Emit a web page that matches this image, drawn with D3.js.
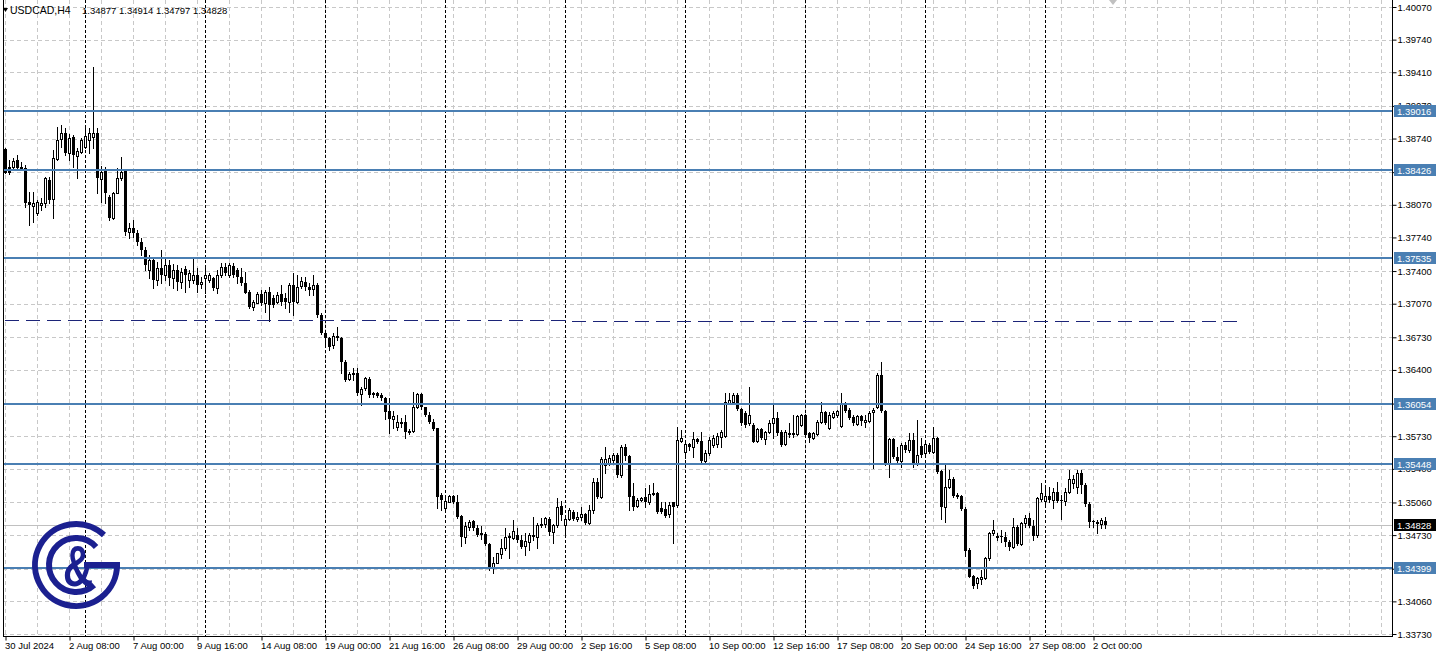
<!DOCTYPE html>
<html><head><meta charset="utf-8">
<script src="https://cdn.jsdelivr.net/npm/d3@7"></script>
<style>
html,body{margin:0;padding:0;background:#fff;overflow:hidden}
svg{display:block;font-family:"Liberation Sans",Arial,sans-serif}
</style></head><body>
<svg id="c" width="1438" height="659"></svg>
<script>
const symbolTitle = "USDCAD,H4";
const lastOHLC = ["1.34877","1.34914","1.34797","1.34828"];

const open = [1.3863,1.3845,1.3845,1.3852,1.3845,1.3844,1.3810,1.3806,1.3799,1.3807,
1.3809,1.3832,1.3813,1.3853,1.3874,1.3880,1.3859,1.3876,1.3856,1.3860,
1.3865,1.3873,1.3876,1.3880,1.3833,1.3841,1.3815,1.3794,1.3819,1.3834,
1.3842,1.3779,1.3784,1.3778,1.3769,1.3761,1.3741,1.3751,1.3731,1.3743,
1.3736,1.3746,1.3733,1.3741,1.3729,1.3742,1.3731,1.3731,1.3736,1.3727,
1.3733,1.3731,1.3733,1.3723,1.3736,1.3744,1.3736,1.3745,1.3741,1.3734,
1.3728,1.3719,1.3704,1.3708,1.3717,1.3708,1.3719,1.3713,1.3709,1.3717,
1.3713,1.3709,1.3726,1.3709,1.3725,1.3729,1.3724,1.3722,1.3726,1.3696,
1.3677,1.3672,1.3665,1.3674,1.3672,1.3648,1.3631,1.3637,1.3637,1.3616,
1.3622,1.3631,1.3617,1.3617,1.3615,1.3612,1.3598,1.3590,1.3582,1.3586,
1.3587,1.3577,1.3578,1.3603,1.3616,1.3603,1.3594,1.3587,1.3581,1.3514,
1.3500,1.3506,1.3513,1.3506,1.3492,1.3471,1.3481,1.3487,1.3480,1.3474,
1.3474,1.3464,1.3440,1.3445,1.3454,1.3460,1.3472,1.3470,1.3473,1.3468,
1.3462,1.3466,1.3473,1.3471,1.3483,1.3484,1.3489,1.3476,1.3483,1.3502,
1.3483,1.3489,1.3496,1.3489,1.3491,1.3494,1.3485,1.3498,1.3527,1.3512,
1.3544,1.3546,1.3549,1.3554,1.3534,1.3562,1.3553,1.3513,1.3502,1.3508,
1.3512,1.3506,1.3515,1.3516,1.3500,1.3499,1.3494,1.3506,1.3503,1.3568,
1.3557,1.3565,1.3562,1.3570,1.3568,1.3548,1.3556,1.3564,1.3565,1.3572,
1.3573,1.3607,1.3608,1.3615,1.3601,1.3596,1.3586,1.3584,1.3568,1.3580,
1.3570,1.3577,1.3586,1.3591,1.3577,1.3565,1.3575,1.3575,1.3575,1.3584,
1.3594,1.3576,1.3571,1.3575,1.3587,1.3597,1.3581,1.3592,1.3594,1.3583,
1.3606,1.3599,1.3592,1.3585,1.3593,1.3587,1.3588,1.3597,1.3603,1.3635,
1.3598,1.3545,1.3570,1.3552,1.3548,1.3564,1.3559,1.3569,1.3546,1.3563,
1.3556,1.3564,1.3557,1.3571,1.3538,1.3501,1.3522,1.3530,1.3514,1.3513,
1.3499,1.3458,1.3432,1.3425,1.3429,1.3430,1.3450,1.3475,1.3471,1.3472,
1.3471,1.3466,1.3461,1.3481,1.3464,1.3485,1.3490,1.3482,1.3473,1.3510,
1.3507,1.3513,1.3509,1.3517,1.3509,1.3507,1.3517,1.3526,1.3522,1.3536,
1.3524,1.3504,1.3487,1.3486,1.3484,1.34877];

const high = [1.3864,1.3852,1.3854,1.3857,1.3850,1.3847,1.3820,1.3820,1.3812,1.3814,
1.3835,1.3835,1.3862,1.3886,1.3888,1.3885,1.3879,1.3878,1.3864,1.3875,
1.3885,1.3885,1.3946,1.3885,1.3846,1.3845,1.3817,1.3820,1.3844,1.3855,
1.3842,1.3789,1.3792,1.3782,1.3773,1.3764,1.3756,1.3753,1.3749,1.3761,
1.3753,1.3751,1.3747,1.3746,1.3743,1.3745,1.3741,1.3752,1.3743,1.3734,
1.3743,1.3738,1.3734,1.3741,1.3748,1.3748,1.3748,1.3748,1.3743,1.3743,
1.3739,1.3721,1.3711,1.3719,1.3721,1.3721,1.3724,1.3716,1.3719,1.3726,
1.3718,1.3728,1.3738,1.3736,1.3734,1.3734,1.3728,1.3736,1.3728,1.3698,
1.3678,1.3673,1.3677,1.3683,1.3673,1.3650,1.3638,1.3642,1.3642,1.3623,
1.3633,1.3633,1.3618,1.3618,1.3617,1.3613,1.3612,1.3598,1.3594,1.3591,
1.3594,1.3580,1.3618,1.3617,1.3617,1.3603,1.3597,1.3590,1.3581,1.3516,
1.3513,1.3514,1.3514,1.3514,1.3493,1.3486,1.3488,1.3488,1.3483,1.3482,
1.3476,1.3465,1.3451,1.3455,1.3469,1.3480,1.3475,1.3488,1.3480,1.3473,
1.3475,1.3475,1.3491,1.3485,1.3490,1.3491,1.3491,1.3484,1.3511,1.3507,
1.3491,1.3500,1.3498,1.3496,1.3501,1.3495,1.3503,1.3531,1.3531,1.3552,
1.3562,1.3554,1.3556,1.3556,1.3564,1.3565,1.3554,1.3526,1.3511,1.3512,
1.3521,1.3524,1.3526,1.3517,1.3506,1.3506,1.3506,1.3506,1.3582,1.3579,
1.3567,1.3566,1.3577,1.3571,1.3577,1.3559,1.3572,1.3574,1.3576,1.3579,
1.3617,1.3617,1.3617,1.3617,1.3602,1.3598,1.3623,1.3586,1.3581,1.3581,
1.3578,1.3589,1.3605,1.3597,1.3579,1.3579,1.3586,1.3594,1.3594,1.3595,
1.3595,1.3577,1.3577,1.3589,1.3608,1.3598,1.3597,1.3598,1.3600,1.3617,
1.3608,1.3602,1.3594,1.3594,1.3594,1.3594,1.3598,1.3602,1.3637,1.3648,
1.3599,1.3571,1.3571,1.3562,1.3566,1.3567,1.3576,1.3576,1.3589,1.3571,
1.3569,1.3566,1.3582,1.3572,1.3539,1.3546,1.3539,1.3532,1.3516,1.3514,
1.3501,1.3460,1.3433,1.3431,1.3438,1.3451,1.3476,1.3488,1.3475,1.3478,
1.3476,1.3468,1.3490,1.3483,1.3486,1.3493,1.3495,1.3488,1.3512,1.3526,
1.3524,1.3522,1.3521,1.3527,1.3514,1.3521,1.3539,1.3534,1.3539,1.3539,
1.3526,1.3506,1.3488,1.3488,1.3490,1.34914];

const low = [1.3839,1.3838,1.3842,1.3842,1.3842,1.3805,1.3787,1.3790,1.3797,1.3802,
1.3805,1.3809,1.3794,1.3852,1.3865,1.3857,1.3852,1.3845,1.3834,1.3859,
1.3864,1.3859,1.3864,1.3819,1.3810,1.3809,1.3792,1.3793,1.3819,1.3832,
1.3776,1.3773,1.3774,1.3766,1.3756,1.3741,1.3733,1.3723,1.3726,1.3728,
1.3731,1.3726,1.3723,1.3721,1.3723,1.3719,1.3724,1.3728,1.3719,1.3723,
1.3718,1.3729,1.3721,1.3718,1.3734,1.3736,1.3734,1.3734,1.3728,1.3726,
1.3718,1.3703,1.3701,1.3708,1.3706,1.3699,1.3689,1.3704,1.3708,1.3706,
1.3703,1.3699,1.3696,1.3708,1.3723,1.3721,1.3716,1.3716,1.3694,1.3676,
1.3665,1.3660,1.3662,1.3670,1.3637,1.3629,1.3630,1.3630,1.3615,1.3605,
1.3620,1.3613,1.3613,1.3613,1.3610,1.3590,1.3576,1.3581,1.3579,1.3582,
1.3571,1.3575,1.3577,1.3602,1.3601,1.3593,1.3586,1.3579,1.3500,1.3498,
1.3498,1.3506,1.3505,1.3490,1.3462,1.3465,1.3478,1.3478,1.3472,1.3469,
1.3463,1.3438,1.3435,1.3445,1.3450,1.3458,1.3450,1.3469,1.3466,1.3460,
1.3453,1.3458,1.3468,1.3460,1.3481,1.3481,1.3473,1.3465,1.3481,1.3488,
1.3473,1.3488,1.3488,1.3487,1.3488,1.3484,1.3484,1.3495,1.3511,1.3511,
1.3536,1.3544,1.3547,1.3532,1.3532,1.3549,1.3498,1.3498,1.3501,1.3507,
1.3501,1.3504,1.3514,1.3495,1.3495,1.3491,1.3491,1.3465,1.3501,1.3567,
1.3551,1.3559,1.3552,1.3566,1.3546,1.3547,1.3554,1.3562,1.3562,1.3562,
1.3572,1.3607,1.3607,1.3600,1.3584,1.3582,1.3584,1.3567,1.3567,1.3570,
1.3565,1.3576,1.3571,1.3574,1.3563,1.3564,1.3572,1.3572,1.3574,1.3583,
1.3572,1.3567,1.3570,1.3574,1.3586,1.3585,1.3580,1.3591,1.3592,1.3582,
1.3597,1.3590,1.3584,1.3584,1.3584,1.3582,1.3587,1.3541,1.3602,1.3597,
1.3544,1.3532,1.3551,1.3547,1.3542,1.3557,1.3557,1.3542,1.3544,1.3552,
1.3553,1.3556,1.3556,1.3536,1.3489,1.3486,1.3521,1.3512,1.3511,1.3498,
1.3452,1.3431,1.3420,1.3420,1.3424,1.3429,1.3448,1.3473,1.3468,1.3466,
1.3462,1.3458,1.3460,1.3463,1.3463,1.3481,1.3481,1.3468,1.3471,1.3507,
1.3501,1.3506,1.3500,1.3506,1.3489,1.3503,1.3516,1.3521,1.3516,1.3516,
1.3502,1.3481,1.3481,1.3475,1.3480,1.34797];

const close = [1.3839,1.3839,1.3851,1.3844,1.3843,1.3809,1.3807,1.3809,1.3810,1.3809,
1.3834,1.3812,1.3854,1.3873,1.3880,1.3859,1.3875,1.3857,1.3861,1.3873,
1.3877,1.3880,1.3880,1.3834,1.3840,1.3819,1.3794,1.3819,1.3834,1.3840,
1.3779,1.3784,1.3778,1.3769,1.3761,1.3746,1.3751,1.3731,1.3743,1.3736,
1.3746,1.3733,1.3741,1.3729,1.3739,1.3736,1.3738,1.3736,1.3726,1.3729,
1.3736,1.3736,1.3723,1.3736,1.3744,1.3738,1.3746,1.3736,1.3734,1.3728,
1.3718,1.3704,1.3709,1.3717,1.3708,1.3719,1.3706,1.3706,1.3716,1.3709,
1.3709,1.3726,1.3709,1.3724,1.3730,1.3724,1.3721,1.3726,1.3696,1.3677,
1.3672,1.3663,1.3674,1.3672,1.3648,1.3630,1.3636,1.3635,1.3617,1.3621,
1.3632,1.3615,1.3615,1.3614,1.3612,1.3597,1.3590,1.3593,1.3587,1.3587,
1.3577,1.3578,1.3603,1.3616,1.3603,1.3594,1.3587,1.3580,1.3512,1.3509,
1.3507,1.3513,1.3506,1.3491,1.3471,1.3482,1.3486,1.3480,1.3473,1.3475,
1.3464,1.3440,1.3445,1.3455,1.3460,1.3471,1.3470,1.3477,1.3468,1.3461,
1.3467,1.3473,1.3471,1.3483,1.3484,1.3490,1.3476,1.3483,1.3501,1.3493,
1.3489,1.3498,1.3489,1.3491,1.3494,1.3485,1.3498,1.3527,1.3512,1.3550,
1.3550,1.3551,1.3554,1.3534,1.3562,1.3553,1.3512,1.3501,1.3508,1.3511,
1.3506,1.3515,1.3516,1.3496,1.3496,1.3492,1.3503,1.3501,1.3569,1.3571,
1.3565,1.3562,1.3570,1.3567,1.3548,1.3556,1.3569,1.3571,1.3573,1.3577,
1.3608,1.3610,1.3615,1.3601,1.3586,1.3584,1.3594,1.3567,1.3580,1.3571,
1.3577,1.3586,1.3591,1.3576,1.3564,1.3577,1.3576,1.3576,1.3593,1.3594,
1.3574,1.3571,1.3576,1.3587,1.3597,1.3586,1.3594,1.3596,1.3598,1.3606,
1.3598,1.3591,1.3586,1.3593,1.3588,1.3589,1.3596,1.3599,1.3635,1.3598,
1.3545,1.3570,1.3552,1.3548,1.3564,1.3559,1.3569,1.3546,1.3554,1.3554,
1.3565,1.3557,1.3571,1.3537,1.3501,1.3522,1.3530,1.3513,1.3512,1.3499,
1.3457,1.3431,1.3422,1.3430,1.3431,1.3450,1.3475,1.3478,1.3472,1.3471,
1.3466,1.3461,1.3481,1.3464,1.3485,1.3490,1.3482,1.3472,1.3511,1.3516,
1.3513,1.3508,1.3517,1.3507,1.3507,1.3517,1.3530,1.3530,1.3536,1.3524,
1.3504,1.3486,1.3486,1.3484,1.3488,1.34828];

const priceTickLabels = ["1.40070","1.39740","1.39410","1.39070","1.38740","1.38400","1.38070","1.37740","1.37400","1.37070","1.36730","1.36400","1.36060","1.35730","1.35400","1.35060","1.34730","1.34390","1.34060","1.33730"];
const levelPrices = [1.39016,1.38426,1.37535,1.36054,1.35448,1.34399];
const trendLineStart = 1.36903;
const trendLineEnd = 1.36885;
const currentPrice = 1.34828;
const timeTickIndex = [0,16,32,48,64,80,96,112,128,144,160,176,192,208,224,240,256,272];
const timeTickLabels = ["30 Jul 2024","2 Aug 08:00","7 Aug 00:00","9 Aug 16:00","14 Aug 08:00","19 Aug 00:00","21 Aug 16:00","26 Aug 08:00","29 Aug 00:00","2 Sep 16:00","5 Sep 08:00","10 Sep 00:00","12 Sep 16:00","17 Sep 08:00","20 Sep 00:00","24 Sep 16:00","27 Sep 08:00","2 Oct 00:00"];
const weekStartIndex = [20,50,80,110,140,170,200,230,260];
const gridEveryBars = 8;
const trendLineEndIndex = 308;

const svg = d3.select("#c");
const PL = 3, PR = 1392, PB = 636, PT = 0;
const nBars = open.length;
const x = d3.scaleLinear().domain([0, nBars - 1]).range([5.5, 5.5 + 4 * (nBars - 1)]);
const y = d3.scaleLinear().domain([1.33730, 1.40070]).range([634, 7]);
const maxIdx = x.invert(PR - 1);
const py = v => Math.round(y(v)) + 0.5;

svg.append("rect").attr("width",1438).attr("height",659).attr("fill","#fff");

// grid
const grid = svg.append("g").attr("shape-rendering","crispEdges");
grid.selectAll("line.h").data(priceTickLabels).join("line")
  .attr("x1",PL).attr("x2",PR).attr("y1",d=>py(+d)).attr("y2",d=>py(+d))
  .attr("stroke","#c8c8c8").attr("stroke-dasharray","4,3");
const vIdx = d3.range(0, Math.floor(maxIdx)+1, gridEveryBars);
grid.selectAll("line.v").data(vIdx).join("line")
  .attr("x1",d=>x(d)).attr("x2",d=>x(d)).attr("y1",PT).attr("y2",PB)
  .attr("stroke","#c8c8c8").attr("stroke-dasharray","4,3");
grid.selectAll("line.w").data(weekStartIndex).join("line")
  .attr("x1",d=>x(d)).attr("x2",d=>x(d)).attr("y1",PT).attr("y2",PB)
  .attr("stroke","#000").attr("stroke-dasharray","3,2");

// current price line
svg.append("line").attr("x1",PL).attr("x2",PR).attr("y1",py(currentPrice)).attr("y2",py(currentPrice))
  .attr("stroke","#c0c0c0").attr("shape-rendering","crispEdges");

// candles
const cg = svg.append("g").attr("shape-rendering","crispEdges");
const idx = d3.range(nBars);
const bull = i => close[i] >= open[i];
cg.selectAll("line.wick").data(idx).join("line")
  .attr("x1",i=>x(i)).attr("x2",i=>x(i))
  .attr("y1",i=>Math.round(y(high[i]))).attr("y2",i=>Math.round(y(low[i]))+1)
  .attr("stroke","#000");
cg.selectAll("rect.body").data(idx).join("rect")
  .attr("x",i=> bull(i) ? x(i)-1 : x(i)-1.5)
  .attr("y",i=>{const t=Math.round(y(Math.max(open[i],close[i]))); return bull(i)? t+0.5 : t;})
  .attr("width",i=> bull(i) ? 2 : 3)
  .attr("height",i=>{const t=Math.round(y(Math.max(open[i],close[i]))), b=Math.round(y(Math.min(open[i],close[i]))); return bull(i)? Math.max(b-t,0.01) : Math.max(b-t,1);})
  .attr("fill",i=> bull(i) ? "#fff" : "#000")
  .attr("stroke",i=> bull(i) ? "#000" : "none");

// dashed trend line
svg.append("line").attr("x1",x(0)).attr("x2",x(trendLineEndIndex))
  .attr("y1",y(trendLineStart)).attr("y2",y(trendLineEnd))
  .attr("stroke","#1c2478").attr("stroke-dasharray","14,7").attr("shape-rendering","crispEdges");

// level lines
svg.append("g").selectAll("line").data(levelPrices).join("line")
  .attr("x1",PL).attr("x2",PR).attr("y1",d=>Math.round(y(d))).attr("y2",d=>Math.round(y(d)))
  .attr("stroke","#4a7fb3").attr("stroke-width",2).attr("shape-rendering","crispEdges");

// frame
svg.append("line").attr("x1",PL+0.5).attr("x2",PL+0.5).attr("y1",0).attr("y2",PB).attr("stroke","#000").attr("shape-rendering","crispEdges");
// price axis
const yAxis = d3.axisRight(y).tickValues(priceTickLabels.map(Number)).tickFormat((d,i)=>priceTickLabels[i]).tickSize(4).tickSizeOuter(0);
const ya = svg.append("g").attr("transform",`translate(${PR+0.5},0)`).call(yAxis);
ya.select(".domain").attr("d",`M0,0V${PB}`).attr("stroke","#000");
ya.selectAll(".tick line").attr("stroke","#000");
ya.selectAll(".tick text").attr("x",5).attr("font-size","9.5px").attr("font-family","Liberation Sans, Arial, sans-serif").attr("fill","#000");

// time axis
const xAxis = d3.axisBottom(x).tickValues(timeTickIndex).tickFormat((d,i)=>timeTickLabels[i]).tickSize(4).tickSizeOuter(0);
const xa = svg.append("g").attr("transform",`translate(0,${PB+0.5})`).call(xAxis);
xa.select(".domain").attr("d",`M${PL},0H${PR+1}`).attr("stroke","#000");
xa.selectAll(".tick line").attr("stroke","#000");
xa.selectAll(".tick text").attr("text-anchor","start").attr("x",-1).attr("y",6).attr("dy","0.71em")
  .attr("font-size","9.5px").attr("font-family","Liberation Sans, Arial, sans-serif").attr("fill","#000");

// level labels
const lab = svg.append("g");
levelPrices.forEach(v=>{
  const yy = Math.round(y(v));
  lab.append("rect").attr("x",PR+2).attr("y",yy-6).attr("width",1438-PR-4).attr("height",12).attr("fill","#4a7fb3");
  lab.append("text").attr("x",PR+5).attr("y",yy+3.5).attr("font-size","9.5px").attr("fill","#fff").text(v.toFixed(5));
});
{
  const yy = Math.round(y(currentPrice));
  lab.append("rect").attr("x",PR+2).attr("y",yy-6).attr("width",1438-PR-4).attr("height",12).attr("fill","#000");
  lab.append("text").attr("x",PR+5).attr("y",yy+3.5).attr("font-size","9.5px").attr("fill","#fff").text(currentPrice.toFixed(5));
}

// title
svg.append("path").attr("d","M3,8 L8,8 L5.5,12 Z").attr("fill","#000");
svg.append("text").attr("x",10).attr("y",14).attr("font-size","10.5px").text(symbolTitle);
svg.append("text").attr("x",82).attr("y",14).attr("font-size","9.5px").text(lastOHLC.join(" "));

// chart shift marker
svg.append("path").attr("d","M1109,0 L1117,0 L1113,5 Z").attr("fill","#c0c0c0");

// logo
const logo = svg.append("g").attr("fill","none").attr("stroke","#1b2090").attr("stroke-width",6);
const cx0=76, cy0=565;
function arc(r,a0,a1,large,sweep){
  const p0=[cx0+r*Math.cos(a0*Math.PI/180), cy0+r*Math.sin(a0*Math.PI/180)];
  const p1=[cx0+r*Math.cos(a1*Math.PI/180), cy0+r*Math.sin(a1*Math.PI/180)];
  return `M${p0[0]},${p0[1]} A${r},${r} 0 ${large} ${sweep} ${p1[0]},${p1[1]}`;
}
logo.append("path").attr("d",arc(41,-47,0,1,0));
logo.append("path").attr("d",`M${cx0+8},${cy0} H${cx0+44}`);
logo.append("path").attr("d",arc(27,-42,48,1,0));
svg.append("text").attr("x",cx0+2).attr("y",cy0+21).attr("text-anchor","middle")
  .attr("font-family","Liberation Sans, Arial, sans-serif").attr("font-weight","bold").attr("font-size","58px")
  .attr("fill","#1b2090").attr("transform",`translate(${cx0+2},0) scale(0.72,1) translate(${-(cx0+2)},0)`).text("&");
</script>
</body></html>
